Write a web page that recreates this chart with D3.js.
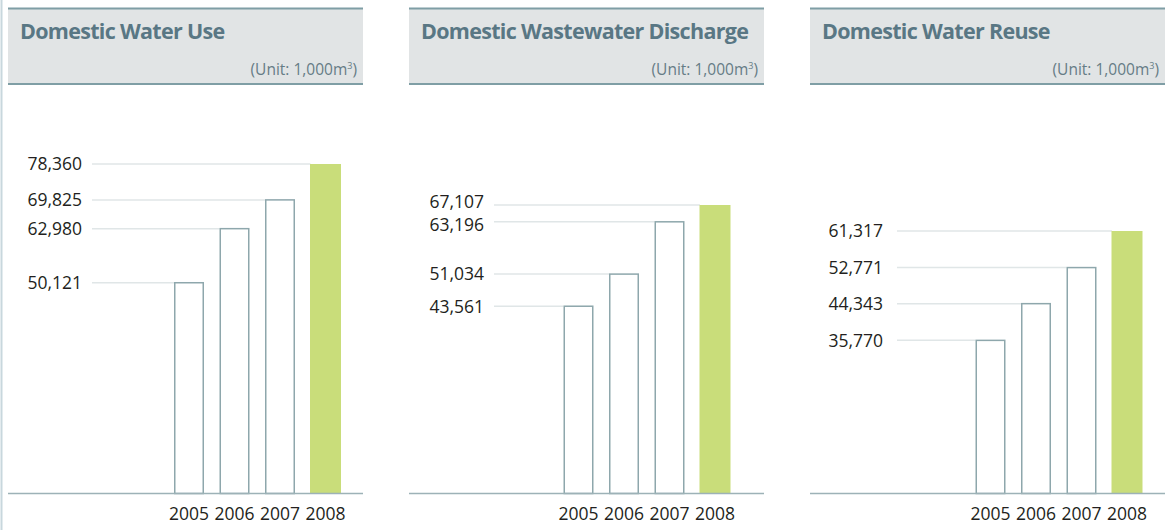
<!DOCTYPE html>
<html>
<head>
<meta charset="utf-8">
<script src="https://cdn.jsdelivr.net/npm/d3@7"></script>
<style>
  html, body { margin: 0; padding: 0; background: #fff; }
  svg { display: block; }
</style>
</head>
<body>
<svg id="chart" width="1171" height="530"></svg>
<script>
// Data
const years = ["2005", "2006", "2007", "2008"];
const titles = ["Domestic Water Use", "Domestic Wastewater Discharge", "Domestic Water Reuse"];
const waterUse = [50121, 62980, 69825, 78360];
const wastewaterDischarge = [43561, 51034, 63196, 67107];
const waterReuse = [35770, 44343, 52771, 61317];
const seriesList = [waterUse, wastewaterDischarge, waterReuse];
const unitLabel = "(Unit: 1,000m";

// Layout per panel
const panels = [
  { left: 8,   width: 355, barStart: 174, labelX: 82,  gridStart: 92,  topY: 164 },
  { left: 409, width: 355, barStart: 563.5, labelX: 484, gridStart: 494, topY: 205 },
  { left: 810, width: 355, barStart: 975.5, labelX: 883, gridStart: 897, topY: 231 }
];
const baseY = 493.5;
const headTop = 8, headBottom = 84.5;
const barStep = 45.5, barWidth = 30;
const minLabelGap = 23.5;

const C = {
  headFill: "#e1e4e5",
  headLine: "#7f9ea5",
  title: "#597784",
  unit: "#667c86",
  grid: "#e0e6e7",
  axis: "#9db2b7",
  barStroke: "#8ea7ac",
  green: "#c9dd7a",
  text: "#231f20",
  border: "#c8d7dd"
};
const font = "'Open Sans', 'Noto Sans', sans-serif";

const svg = d3.select("#chart");

// thin border on the left edge
svg.append("line")
  .attr("x1", 1.5).attr("x2", 1.5).attr("y1", 0).attr("y2", 530)
  .attr("stroke", C.border).attr("stroke-width", 2);

panels.forEach((p, i) => {
  const values = seriesList[i];
  const g = svg.append("g");

  // header band
  g.append("rect")
    .attr("x", p.left).attr("y", headTop)
    .attr("width", p.width).attr("height", headBottom - headTop)
    .attr("fill", C.headFill);
  [headTop + 0.5, headBottom - 0.5].forEach(y => {
    g.append("line")
      .attr("x1", p.left).attr("x2", p.left + p.width)
      .attr("y1", y).attr("y2", y)
      .attr("stroke", C.headLine).attr("stroke-width", 2);
  });
  g.append("text")
    .attr("x", p.left + 12).attr("y", 39)
    .attr("font-family", font).attr("font-weight", 700)
    .attr("font-size", 21.5).attr("letter-spacing", -0.7)
    .attr("fill", C.title)
    .text(titles[i]);
  const unit = g.append("text")
    .attr("x", p.left + p.width - 6).attr("y", 75)
    .attr("text-anchor", "end")
    .attr("font-family", font).attr("font-size", 15.5)
    .attr("fill", C.unit);
  unit.append("tspan").text(unitLabel);
  unit.append("tspan").attr("font-size", 9).attr("dy", -6).text("3");
  unit.append("tspan").attr("dy", 6).text(")");

  // scales
  const span = (years.length - 1) * barStep + barWidth;
  const x = d3.scaleBand()
    .domain(years)
    .range([p.barStart, p.barStart + span])
    .paddingInner(1 - barWidth / barStep)
    .paddingOuter(0);
  const y = d3.scaleLinear()
    .domain([0, d3.max(values)])
    .range([baseY, p.topY]);

  // label positions, spread apart where two values sit too close
  const labelY = values.map(v => y(v));
  for (let j = values.length - 1; j > 0; j--) {
    const gap = labelY[j - 1] - labelY[j];
    if (gap < minLabelGap) {
      const shift = (minLabelGap - gap) / 2;
      labelY[j] -= shift;
      labelY[j - 1] += shift;
    }
  }

  // guide lines from value labels to bars
  years.forEach((yr, j) => {
    g.append("line")
      .attr("x1", p.gridStart).attr("x2", x(yr))
      .attr("y1", y(values[j])).attr("y2", y(values[j]))
      .attr("stroke", C.grid).attr("stroke-width", 1.5);
    g.append("text")
      .attr("x", p.labelX).attr("y", labelY[j])
      .attr("dy", "0.36em")
      .attr("text-anchor", "end")
      .attr("font-family", font).attr("font-size", 17.5)
      .attr("fill", C.text)
      .text(d3.format(",")(values[j]));
  });

  // bars
  years.forEach((yr, j) => {
    const last = j === years.length - 1;
    if (last) {
      g.append("rect")
        .attr("x", x(yr) - 0.5).attr("y", y(values[j]))
        .attr("width", x.bandwidth() + 1)
        .attr("height", baseY - y(values[j]))
        .attr("fill", C.green);
    } else {
      g.append("rect")
        .attr("x", x(yr) + 0.75).attr("y", y(values[j]))
        .attr("width", x.bandwidth() - 1.5)
        .attr("height", baseY - y(values[j]))
        .attr("fill", "#fff")
        .attr("stroke", C.barStroke).attr("stroke-width", 1.5);
    }
  });

  // baseline axis with year labels
  const axis = g.append("g")
    .attr("transform", `translate(0,${baseY})`)
    .call(d3.axisBottom(x).tickSize(0).tickPadding(0));
  axis.select(".domain").remove();
  axis.selectAll("text")
    .attr("y", 26.5).attr("dy", 0)
    .attr("font-family", font).attr("font-size", 17.5)
    .attr("fill", C.text);
  g.append("line")
    .attr("x1", p.left).attr("x2", p.left + p.width)
    .attr("y1", baseY).attr("y2", baseY)
    .attr("stroke", C.axis).attr("stroke-width", 1.5);
});
</script>
</body>
</html>
